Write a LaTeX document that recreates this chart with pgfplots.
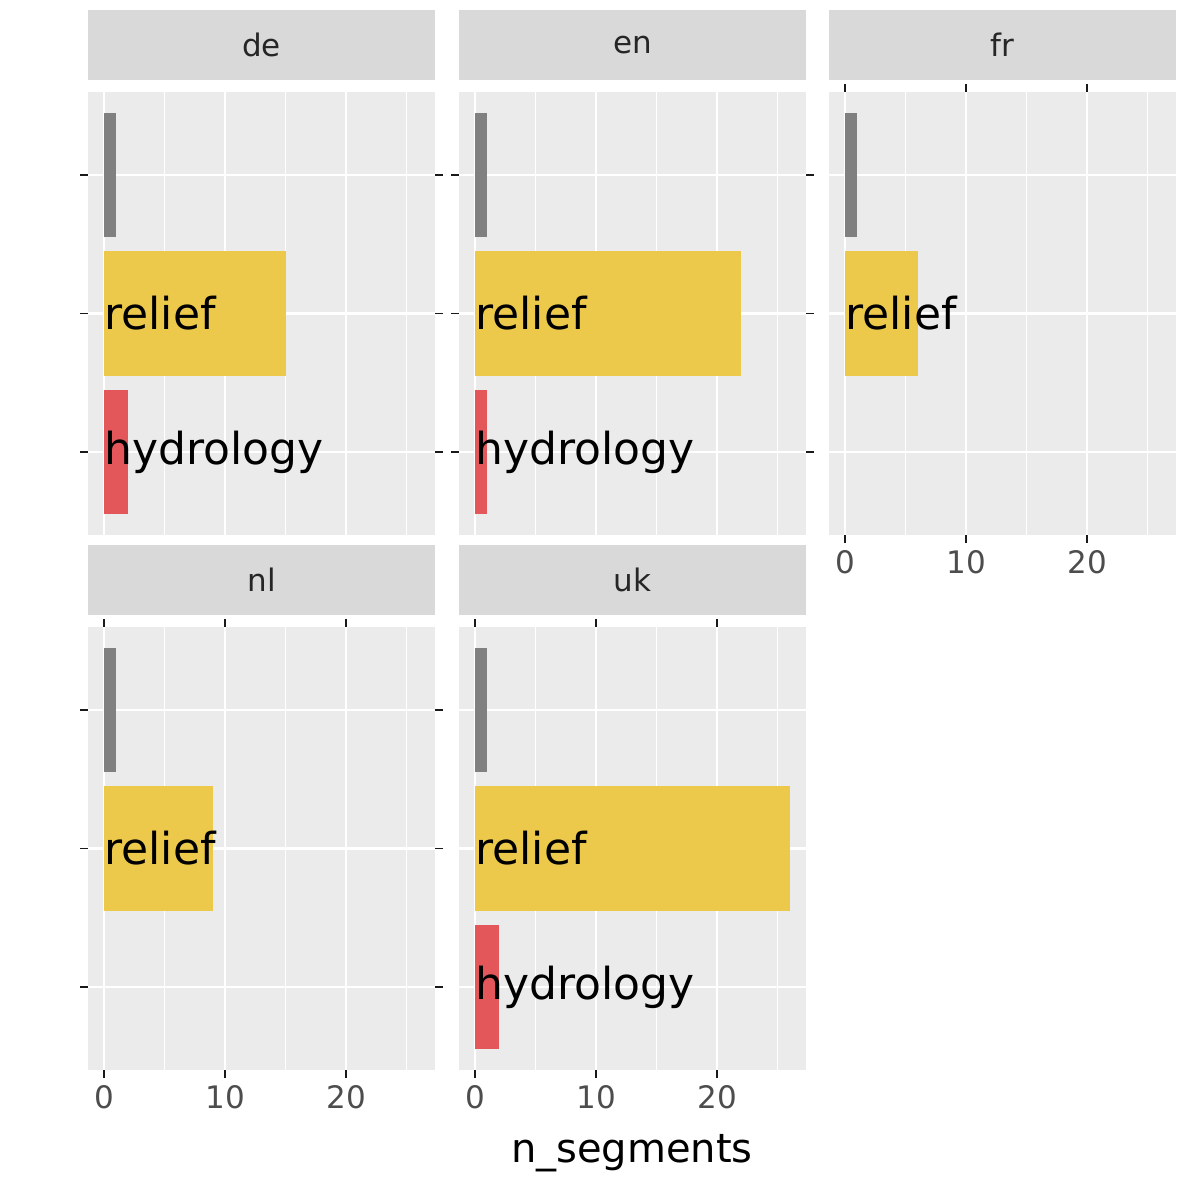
\documentclass[border=0pt]{standalone}
\usepackage{pgfplots}
\pgfplotsset{compat=1.18}
\usepackage{fontspec}
\setmainfont{DejaVu Sans}
\definecolor{panelbg}{HTML}{EBEBEB}
\definecolor{stripbg}{HTML}{D9D9D9}
\definecolor{cgray}{HTML}{808080}
\definecolor{cyel}{HTML}{ECC94B}
\definecolor{cred}{HTML}{E3575A}
\definecolor{ticklab}{HTML}{4D4D4D}
\tikzset{lab/.style={anchor=west, inner sep=0pt, font=\fontsize{22}{26}\selectfont}}
\pgfplotsset{
 facet/.style={
  scale only axis, width=173.5pt, height=221.5pt,
  xmin=-1.32, xmax=27.35, ymin=0.4, ymax=3.6,
  axis background/.style={fill=panelbg},
  axis line style={draw=none},
  xtick={0,10,20}, minor xtick={5,15,25},
  ytick={1,2,3}, yticklabels={},
  grid=both,
  major grid style={white, line width=1.1pt},
  minor grid style={white, line width=0.55pt},
  tick style={draw=gray!20!black, line width=0.8pt},
  tick align=outside, major tick length=4pt, minor tick length=0pt,
  xticklabel style={font=\fontsize{15.5}{18}\selectfont, text=ticklab},
  /pgf/number format/assume math mode=true,
  xbar, bar width=0.9, bar shift=0pt,
  title style={fill=stripbg, minimum width=173.5pt, minimum height=35pt, inner sep=0pt,
     anchor=south, at={(0.5,1)}, yshift=0pt, font=\fontsize{15.5}{18}\selectfont, text=black!85},
  clip=false,
 },
 nox/.style={xticklabels={}, major x tick style={draw=none}},
}
\begin{document}
\begin{tikzpicture}
% de
\begin{axis}[facet, nox, at={(44pt,-267.5pt)}, anchor=south west, title={de}]
\addplot[draw=none, fill=cred] coordinates {(2,1)};
\addplot[draw=none, fill=cyel] coordinates {(15,2)};
\addplot[draw=none, fill=cgray] coordinates {(1,3)};
\node[lab] at (axis cs:0,2) {relief};
\node[lab] at (axis cs:0,1) {hydrology};
\end{axis}
% en
\begin{axis}[facet, nox, at={(229.5pt,-267.5pt)}, anchor=south west, title={en}]
\addplot[draw=none, fill=cred] coordinates {(1,1)};
\addplot[draw=none, fill=cyel] coordinates {(22,2)};
\addplot[draw=none, fill=cgray] coordinates {(1,3)};
\node[lab] at (axis cs:0,2) {relief};
\node[lab] at (axis cs:0,1) {hydrology};
\end{axis}
% fr
\begin{axis}[facet, at={(414.5pt,-267.5pt)}, anchor=south west, title={fr}, major y tick style={draw=none}]
\addplot[draw=none, fill=cyel] coordinates {(6,2)};
\addplot[draw=none, fill=cgray] coordinates {(1,3)};
\node[lab] at (axis cs:0,2) {relief};
\end{axis}
% nl
\begin{axis}[facet, at={(44pt,-535pt)}, anchor=south west, title={nl}]
\addplot[draw=none, fill=cyel] coordinates {(9,2)};
\addplot[draw=none, fill=cgray] coordinates {(1,3)};
\node[lab] at (axis cs:0,2) {relief};
\end{axis}
% uk
\begin{axis}[facet, at={(229.5pt,-535pt)}, anchor=south west, title={uk}, major y tick style={draw=none}]
\addplot[draw=none, fill=cred] coordinates {(2,1)};
\addplot[draw=none, fill=cyel] coordinates {(26,2)};
\addplot[draw=none, fill=cgray] coordinates {(1,3)};
\node[lab] at (axis cs:0,2) {relief};
\node[lab] at (axis cs:0,1) {hydrology};
\end{axis}
\node[font=\fontsize{20}{24}\selectfont] at (316pt,-576.5pt) {n\_segments};
\path (0,0) rectangle (600pt,-600pt);
\end{tikzpicture}
\end{document}
